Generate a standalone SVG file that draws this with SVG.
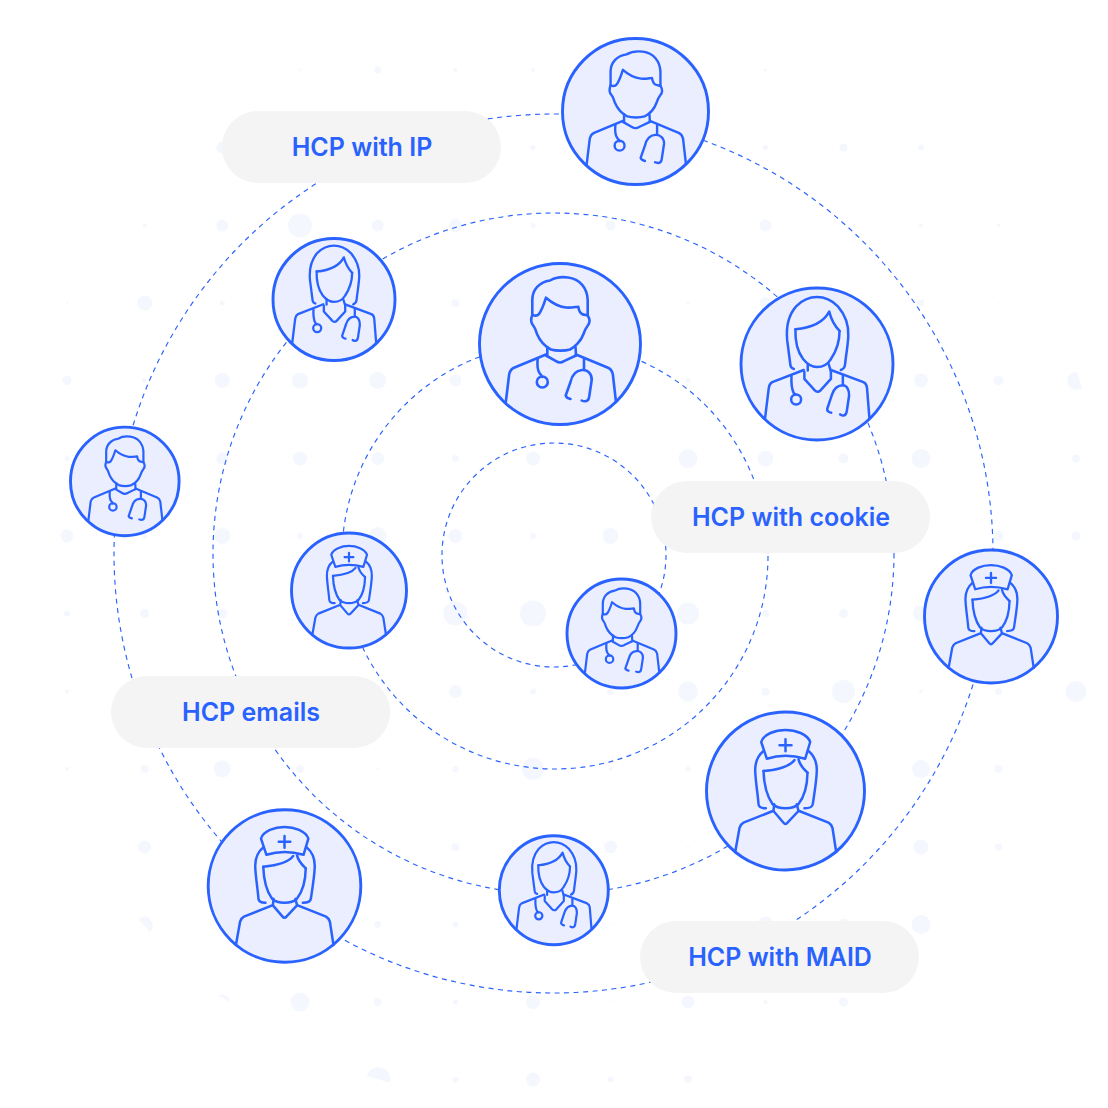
<svg xmlns="http://www.w3.org/2000/svg" width="1108" height="1108" viewBox="0 0 1108 1108">
<style>
.dot{fill:#F4F7FE;stroke:none}
.ring{fill:none;stroke:#2962FF;stroke-width:1.150;stroke-dasharray:5 4.500}
.disc{fill:#EAEEFE;stroke:#2962FF;stroke-width:2.900;vector-effect:non-scaling-stroke}
.fig *{fill:none;stroke:#2962FF;stroke-linecap:round;stroke-linejoin:round;vector-effect:non-scaling-stroke}
.pill{fill:#F4F4F4}
.lbl{font-family:Inter,"Liberation Sans",sans-serif;font-weight:600;font-size:25px;fill:#2962FF;text-anchor:middle}
</style>
<defs>
<g id="male" class="fig">
<path d="M-27.700-29V-44C-27.700-55-20-62-10-63.500C-4-67 3-67.200 8-66.500C20-65 27.300-56 27.700-44V-29"/>
<path d="M-27.700-29C-25-28-22.500-28-21-30C-18-34-16-40-14-46.300C-8-41-2-37.500 6-36.500C10-36 14-36.800 18.300-37.300C19-33 20-31 22-30C24-29 26-29 27.700-28.500"/>
<path d="M-27.700-29C-29.500-25-29-21-26.500-18C-24.500-15.500-24-13-23-10C-20-3-14 3-9 5.500C-4 7 5 7 10 5.500C15 3 21-3 23.500-10C24.500-13 25.500-15.500 27.500-18C30-21 30-25 27.700-28.500"/>
<path d="M-12.700 3V11M15.500 3 16 11.500"/>
<path d="M-14 11.500-4 17.200C-1.500 18.800 1.500 18.800 4 17.200L16 11.500"/>
<path d="M-14 10.500-46 23.800C-49 25-50 27-50.800 30L-54.300 59M16 10.500 48 23.800C51 25 52 27 52.800 30L56 58"/>
<path d="M-22.300 14.500C-23 21-22.500 26-20.500 29C-19 31-18 32-17.700 33"/>
<circle cx="-17.700" cy="38" r="5.500"/>
<path d="M24 15V26"/>
<path d="M10.500 55C8 54.500 6 53 5.700 51.500L10.500 38C12 31 16 26.500 22 26C28 25.500 32 30 31.700 36L29.300 52C29 55 28 57 25.500 57.200C24 57.200 22.500 57 21.700 56.500"/>
</g>
<g id="female" class="fig">
<path d="M-23.300 5C-25 4.500-26.500 3.500-26.700 1.500L-30-24C-31.500-40-28-50-21-58C-15-64-8-67.300 0-67.300C8-67.300 15-64 21-58C28-50 32-40 31.500-28C31-18 29-8 28.300 0C28 3 27 5 24 6"/>
<path d="M-21.700-35C-10-36 5-39 12.300-52.700C14-46 17-39 22.700-33.300"/>
<path d="M-21.700-35C-22-25-20-13-14-5C-10 0-6 3 0 3C6 3 11 0 14-5C20-14 22.700-23 22.700-33.300"/>
<path d="M-9.300 0V6.500M11.700 0 14 7.500"/>
<path d="M-12.700 8V15L-2 26.700C-.7 28.300 1.800 28.300 3.300 26.700L14 15V7.500"/>
<path d="M-13.300 6-45 18.300C-47 19.300-48 21-48.500 24L-52.300 55M14 6 46.700 18.300C49 19.300 50 21 50.300 24L52.700 54"/>
<path d="M-25.700 12.300C-26 20-25.500 25-23.500 29C-22.500 30-22 30.500-21.500 30.700"/>
<circle cx="-21" cy="35.700" r="5"/>
<path d="M26 11.700V21.500"/>
<path d="M14.300 49C12 48.500 10 47 10.300 45L15 31C17 25 21 21.500 26 21.500C30 21.500 32.500 26 32.300 31.700L30 47.300C29.500 50.500 27.500 52 25.500 51.700C24.500 51.500 24 51.200 23.300 50.700"/>
</g>
<g id="nurse" class="fig">
<path d="M-24.300-49C-22-57-10-61 0-61C10-61 22-57 24.700-49L19.700-32.300C7-36-7-36-18.700-32.300Z"/>
<path d="M0-51.700V-39.700M-6-45.700H6"/>
<path d="M-22-40C-28-35-30.500-28-30.300-20C-30-10-27.500 5-27 13C-26.800 16-25 17.300-19.700 17.300M23-40C29-35 31.500-28 31.300-20C31-10 28.500 5 27.300 13C27 16 25 17.300 19 17.300"/>
<path d="M-22-20C-10-21 3-23 9-31"/>
<path d="M13-31.700C14-27 18-22 22-18.300"/>
<path d="M-22-20C-21.500-6-18 6-13 13C-9 17-4 17.300 0 17.300C4 17.300 9 17 13 13C18.500 6 21.800-6 22-18.300"/>
<path d="M-11.300 13.300-12 20-2 31.700C-.7 33.300 .7 33.300 2 31.700L13 20 11.300 13.300"/>
<path d="M-12.700 20-42 31.700C-44 32.700-45 34-46 37L-50.300 61M13.700 20 43 31.700C45 32.700 46 34 47 37L50.700 61"/>
</g>
</defs>
<g id="dots">
<g class="dot">
<circle cx="300" cy="70" r="1.200"/><circle cx="377.700" cy="70" r="3.500"/><circle cx="455.400" cy="70" r="2"/><circle cx="533" cy="70" r="2"/><circle cx="765.500" cy="70" r="1.500"/>
<circle cx="222.300" cy="147.500" r="6"/><circle cx="533" cy="147.500" r="2.500"/><circle cx="765.500" cy="147.500" r="2.500"/><circle cx="843.500" cy="147.500" r="4"/><circle cx="921" cy="147.500" r="3"/>
<circle cx="144.600" cy="225.500" r="2"/><circle cx="222.300" cy="225.500" r="6"/><circle cx="300" cy="225.500" r="12"/><circle cx="377.700" cy="225.500" r="6"/><circle cx="455.400" cy="225.500" r="6.500"/><circle cx="533" cy="225.500" r="2.500"/><circle cx="610.500" cy="225.500" r="5"/><circle cx="688" cy="225.500" r="1"/><circle cx="765.500" cy="225.500" r="6"/><circle cx="921" cy="225.500" r="2"/><circle cx="998.500" cy="225.500" r="1.500"/>
<circle cx="67" cy="303" r="1"/><circle cx="144.600" cy="303" r="7.500"/><circle cx="222.300" cy="303" r="2.500"/><circle cx="455.400" cy="303" r="4"/><circle cx="688" cy="303" r="1.500"/><circle cx="765.500" cy="303" r="6"/><circle cx="921" cy="303" r="3.500"/><circle cx="998.500" cy="303" r=".8"/>
<circle cx="67" cy="380.500" r="4.500"/><circle cx="144.600" cy="380.500" r="2.500"/><circle cx="222.300" cy="380.500" r="7.500"/><circle cx="300" cy="380.500" r="8"/><circle cx="377.700" cy="380.500" r="8.500"/><circle cx="455.400" cy="380.500" r="6"/><circle cx="688" cy="380.500" r="2.500"/><circle cx="921" cy="380.500" r="7"/><circle cx="998.500" cy="380.500" r="5"/>
<circle cx="67" cy="458.500" r="2.500"/><circle cx="222.300" cy="458.500" r="6"/><circle cx="300" cy="458.500" r="7"/><circle cx="377.700" cy="458.500" r="6.500"/><circle cx="455.400" cy="458.500" r="3.500"/><circle cx="533" cy="458.500" r="7"/><circle cx="688" cy="458.500" r="9.500"/><circle cx="765.500" cy="458.500" r="8"/><circle cx="843.500" cy="458.500" r="5"/><circle cx="921" cy="458.500" r="9.500"/><circle cx="998.500" cy="458.500" r="1"/><circle cx="1076" cy="458.500" r="4"/>
<circle cx="67" cy="536" r="6.500"/><circle cx="144.600" cy="536" r="2.500"/><circle cx="222.300" cy="536" r="8"/><circle cx="300" cy="536" r="3"/><circle cx="377.700" cy="536" r="9"/><circle cx="455.400" cy="536" r="7"/><circle cx="533" cy="536" r="3"/><circle cx="610.500" cy="536" r="8"/><circle cx="998.500" cy="536" r="5"/><circle cx="1076" cy="536" r="4.500"/>
<circle cx="67" cy="613.500" r="3"/><circle cx="144.600" cy="613.500" r="4.500"/><circle cx="222.300" cy="613.500" r="5"/><circle cx="455.400" cy="613.500" r="12"/><circle cx="533" cy="613.500" r="13"/><circle cx="688" cy="613.500" r="11"/><circle cx="765.500" cy="613.500" r="3.500"/><circle cx="843.500" cy="613.500" r="4.500"/><circle cx="921" cy="613.500" r="8"/><circle cx="1076" cy="613.500" r=".6"/>
<circle cx="67" cy="691.500" r="2"/><circle cx="455.400" cy="691.500" r="6.500"/><circle cx="533" cy="691.500" r="3"/><circle cx="610.500" cy="691.500" r="3.500"/><circle cx="688" cy="691.500" r="10"/><circle cx="765.500" cy="691.500" r="4"/><circle cx="843.500" cy="691.500" r="11.500"/><circle cx="921" cy="691.500" r="2"/><circle cx="998.500" cy="691.500" r="3.500"/><circle cx="1076" cy="691.500" r="10.500"/>
<circle cx="67" cy="769" r="2"/><circle cx="144.600" cy="769" r="4"/><circle cx="222.300" cy="769" r="8.500"/><circle cx="300" cy="769" r="4"/><circle cx="377.700" cy="769" r="1"/><circle cx="455.400" cy="769" r="3"/><circle cx="533" cy="769" r="11"/><circle cx="610.500" cy="769" r="2"/><circle cx="688" cy="769" r="2.500"/><circle cx="921" cy="769" r="9"/><circle cx="998.500" cy="769" r="4"/>
<circle cx="144.600" cy="847" r="6.500"/><circle cx="455.400" cy="847" r="4"/><circle cx="610.500" cy="847" r="6.500"/><circle cx="688" cy="847" r="1"/><circle cx="921" cy="847" r="7.500"/><circle cx="998.500" cy="847" r="3.500"/>
<circle cx="377.700" cy="924.500" r="3.500"/><circle cx="455.400" cy="924.500" r="3"/><circle cx="610.500" cy="924.500" r="1"/><circle cx="765.500" cy="924.500" r="8"/><circle cx="843.500" cy="924.500" r="6"/><circle cx="921" cy="924.500" r="9.500"/>
<circle cx="300" cy="1002" r="9.500"/><circle cx="377.700" cy="1002" r="4"/><circle cx="455.400" cy="1002" r="2.500"/><circle cx="533" cy="1002" r="7"/><circle cx="610.500" cy="1002" r="1"/><circle cx="688" cy="1002" r="6.500"/><circle cx="765.500" cy="1002" r="2"/><circle cx="843.500" cy="1002" r="4.500"/>
<circle cx="455.400" cy="1079.500" r="3"/><circle cx="533" cy="1079.500" r="7"/><circle cx="610.500" cy="1079.500" r="3"/><circle cx="688" cy="1079.500" r="4"/>
<path d="M138.500 919A8 8 0 0 1 150 932Z"/><path d="M218 995.500A8 8 0 0 1 230 1002Z"/><path d="M366.700 1076A12 12 0 0 1 390 1082.700Z"/><path d="M1077 372A9 9 0 1 0 1082 388Z"/>
</g>
</g>
<g id="connectors">
<circle class="ring" cx="554" cy="555" r="112"/>
<circle class="ring" cx="555" cy="556" r="213"/>
<circle class="ring" cx="553.500" cy="553.500" r="340.500"/>
<circle class="ring" cx="553.500" cy="553.500" r="439.500"/>
</g>
<g id="node-doc-top" stroke-width="2.400" transform="translate(635.500 111.500)"><circle class="disc" r="73"/><use href="#male" transform="scale(.9)"/></g>
<g id="node-doc-center" stroke-width="2.600" transform="translate(560 344)"><circle class="disc" r="80.500"/><use href="#male"/></g>
<g id="node-fdoc-right" stroke-width="2.500" transform="translate(817 364)"><circle class="disc" r="76"/><use href="#female" transform="scale(.994)"/></g>
<g id="node-fdoc-left" stroke-width="2.300" transform="translate(334 299.500)"><circle class="disc" r="61"/><use href="#female" transform="scale(.8)"/></g>
<g id="node-doc-left" stroke-width="2.200" transform="translate(124.800 481.400)"><circle class="disc" r="54.300"/><use href="#male" transform="scale(.672)"/></g>
<g id="node-nurse-mid" stroke-width="2.200" transform="translate(349 590.500)"><circle class="disc" r="57.500"/><use href="#nurse" transform="scale(.73)"/></g>
<g id="node-doc-inner" stroke-width="2.200" transform="translate(621.500 633.500)"><circle class="disc" r="54.500"/><use href="#male" transform="scale(.675)"/></g>
<g id="node-nurse-right" stroke-width="2.300" transform="translate(991 616.500)"><circle class="disc" r="66.500"/><use href="#nurse" transform="scale(.843)"/></g>
<g id="node-nurse-br" stroke-width="2.500" transform="translate(785.500 791)"><circle class="disc" r="79"/><use href="#nurse"/></g>
<g id="node-fdoc-bottom" stroke-width="2.200" transform="translate(553.800 890.300)"><circle class="disc" r="54.500"/><use href="#female" transform="scale(.715)"/></g>
<g id="node-nurse-bl" stroke-width="2.500" transform="translate(284.500 886)"><circle class="disc" r="76.300"/><use href="#nurse" transform="scale(.966)"/></g>
<g id="pill-ip"><rect class="pill" x="222" y="111" width="279" height="72" rx="36"/><text class="lbl" x="362" y="156">HCP with IP</text></g>
<g id="pill-cookie"><rect class="pill" x="651" y="481" width="279" height="72" rx="36"/><text class="lbl" x="791" y="526">HCP with cookie</text></g>
<g id="pill-emails"><rect class="pill" x="111" y="676" width="279" height="72" rx="36"/><text class="lbl" x="251" y="721">HCP emails</text></g>
<g id="pill-maid"><rect class="pill" x="640" y="921" width="279" height="72" rx="36"/><text class="lbl" x="780" y="966">HCP with MAID</text></g>
</svg>
